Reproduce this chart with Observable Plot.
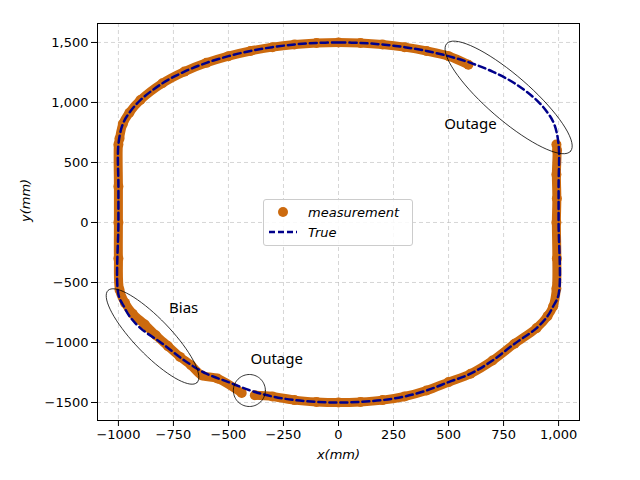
<!DOCTYPE html>
<html><head><meta charset="utf-8">
<script src="https://cdn.jsdelivr.net/npm/d3@7"></script>
<script src="https://cdn.jsdelivr.net/npm/@observablehq/plot@0.6"></script>
<style>
body{margin:0;background:#fff;font-family:"DejaVu Sans",sans-serif}
#wrap{position:relative;width:640px;height:480px}
#legend{position:absolute;left:263px;top:199px;width:148px;height:45px;border:1px solid #ccc;border-radius:3px;background:rgba(255,255,255,.85);font-size:13px;font-style:italic}
#legend div{position:absolute;left:0;display:flex;align-items:center}
</style></head><body>
<div id="wrap"><div id="chart"></div>
<div id="legend">
 <div style="top:4px"><svg width="44" height="16"><circle cx="19" cy="8" r="5" fill="#cc6a0e"/></svg>measurement</div>
 <div style="top:24px"><svg width="44" height="16"><line x1="5" x2="33" y1="8" y2="8" stroke="#00008b" stroke-width="2.5" stroke-dasharray="6,3"/></svg>True</div>
</div></div>
<script>
// true trajectory
const trueX = [0,100,200,300,400,500,600,700,800,900,950,980,1000,1000,1000,1000,975,950,900,800,700,600,500,400,300,200,100,0,-100,-200,-300,-400,-500,-600,-700,-800,-900,-950,-975,-1000,-1000,-1000,-1000,-980,-950,-900,-800,-700,-600,-500,-400,-300,-200,-100,0];
const trueY = [1500,1496,1483,1461,1429,1386,1330,1257,1160,1020,915,820,650,300,0,-600,-700,-780,-880,-1010,-1150,-1260,-1330,-1400,-1450,-1480,-1495,-1500,-1495,-1480,-1450,-1400,-1330,-1260,-1150,-1010,-880,-780,-700,-600,0,300,650,820,915,1020,1160,1257,1330,1386,1429,1461,1483,1496,1500];
// measurements (two segments split by outages, bias in bottom-left)
const measX = [590,500,400,300,200,100,0,-100,-200,-300,-400,-500,-600,-700,-800,-900,-950,-980,-995,-1000,-1000,-1000,-1000,-995,-970,-935,-880,-830,-775,-720,-670,-620,-550,-440,
               -380,-300,-200,-100,0,100,200,300,400,500,600,700,800,900,950,975,990,992,990,992,990,993,990];
const measY = [1315,1386,1429,1461,1483,1496,1500,1496,1483,1461,1429,1386,1330,1257,1160,1020,915,820,700,650,300,0,-300,-560,-670,-760,-850,-940,-1030,-1120,-1190,-1275,-1300,-1420,
               -1440,-1450,-1480,-1495,-1500,-1495,-1480,-1450,-1400,-1330,-1260,-1150,-1010,-880,-780,-700,-550,-300,0,200,400,600,650];
const measSeg = [...Array(34).fill("a"), ...Array(23).fill("b")];
// annotations
const labels = [{x:480,y:820,t:"Outage"},{x:-770,y:-710,t:"Bias"},{x:-400,y:-1140,t:"Outage"}];
const ellipses = [{cx:773,cy:1042,a:82,b:22,ang:41},{cx:-845,cy:-950,a:64,b:18,ang:46},{cx:-405,cy:-1400,a:16,b:16,ang:0}];
const xTicks = [-1000,-750,-500,-250,0,250,500,750,1000];
const yTicks = [-1500,-1000,-500,0,500,1000,1500];

const tru = trueX.map((x,i)=>({x,y:trueY[i]}));
const meas = measX.map((x,i)=>({x,y:measY[i],s:measSeg[i]}));
const kx = 0.22, ky = 0.12;
const ell = ellipses.flatMap((e,k)=>d3.range(0,361,5).map(deg=>{
  const t=deg*Math.PI/180, th=e.ang*Math.PI/180;
  const dx=e.a*Math.cos(t)*Math.cos(th)-e.b*Math.sin(t)*Math.sin(th);
  const dy=e.a*Math.cos(t)*Math.sin(th)+e.b*Math.sin(t)*Math.cos(th);
  return {x:e.cx+dx/kx,y:e.cy-dy/ky,k};
}));
const orange="#cc6a0e";
const chart = Plot.plot({
  width:640,height:480,marginLeft:97,marginRight:61,marginTop:23,marginBottom:60,
  style:{fontFamily:"DejaVu Sans",fontSize:"13px",color:"#000"},
  x:{domain:[-1095,1095],ticks:xTicks,label:null,tickSize:4},
  y:{domain:[-1650,1658],ticks:yTicks,label:null,tickSize:4},
  marks:[
    Plot.gridX(xTicks,{stroke:"#bbb",strokeOpacity:0.6,strokeDasharray:"4,3"}),
    Plot.gridY(yTicks,{stroke:"#bbb",strokeOpacity:0.6,strokeDasharray:"4,3"}),
    Plot.line(meas,{x:"x",y:"y",z:"s",stroke:orange,strokeWidth:9,curve:"catmull-rom"}),
    Plot.dot(meas,{x:"x",y:"y",r:5,fill:orange}),
    Plot.line(tru,{x:"x",y:"y",stroke:"#00008b",strokeWidth:2.5,strokeDasharray:"7,4",curve:"catmull-rom"}),
    Plot.line(ell,{x:"x",y:"y",z:"k",stroke:"#000",strokeWidth:0.8}),
    Plot.text(labels,{x:"x",y:"y",text:"t",textAnchor:"start",fontSize:15,fontFamily:"Noto Sans"}),
    Plot.frame({stroke:"#000"}),
    Plot.axisX(xTicks,{tickFormat:d=>d<0?"\u2212"+(-d):d}),
    Plot.axisY(yTicks,{tickFormat:d=>d<0?"\u2212"+(-d):d}),
    Plot.text(["x(mm)"],{frameAnchor:"bottom",dy:38,fontStyle:"italic",fontSize:13}),
    Plot.text(["y(mm)"],{frameAnchor:"left",dx:-72,rotate:-90,fontStyle:"italic",fontSize:13})
  ]
});
document.getElementById("chart").append(chart);
</script></body></html>
